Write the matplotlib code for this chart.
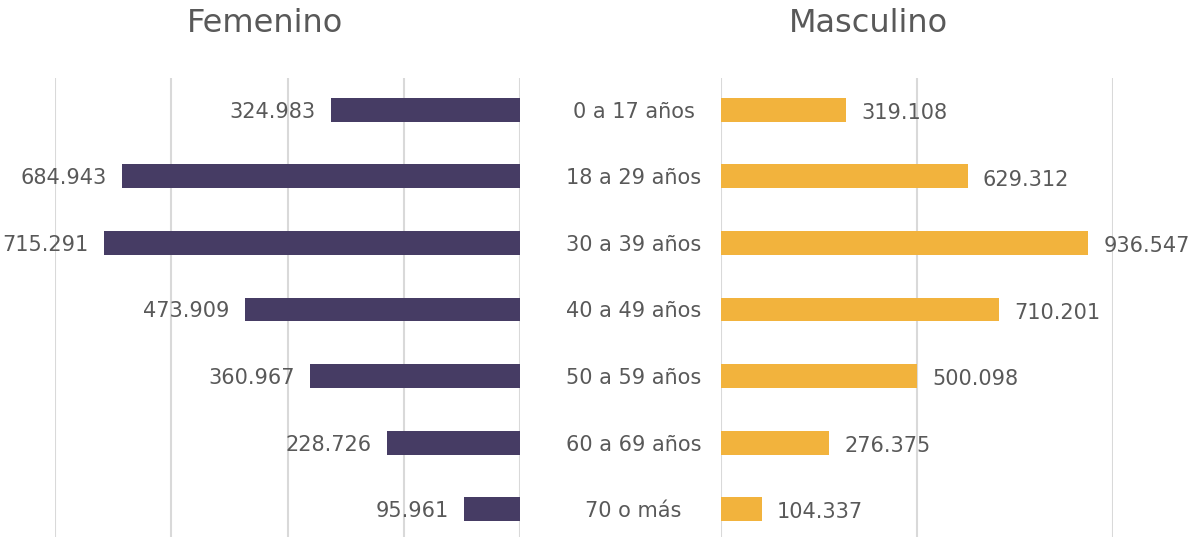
import numpy as np
import matplotlib.pyplot as plt

# data
age_groups = ['0 a 17 años', '18 a 29 años', '30 a 39 años', '40 a 49 años',
              '50 a 59 años', '60 a 69 años', '70 o más']
femenino = [324983, 684943, 715291, 473909, 360967, 228726, 95961]
masculino = [319108, 629312, 936547, 710201, 500098, 276375, 104337]

plt.rcParams['font.family'] = ['DejaVu Sans']
text_color = '#595959'
grid_color = '#d9d9d9'
fem_color = '#463c64'
mas_color = '#f2b33d'
label_size = 15


def fmt(v):
    return '{:,}'.format(v).replace(',', '.')


W, H = 1202, 537
fig = plt.figure(figsize=(W / 100, H / 100), dpi=100)

top, bottom = 78, 537
ax_l = fig.add_axes([55 / W, 1 - bottom / H, 465 / W, (bottom - top) / H])
ax_r = fig.add_axes([721 / W, 1 - bottom / H, 392 / W, (bottom - top) / H])

y = np.arange(len(age_groups))
bar_h = 0.36

ax_l.barh(y, femenino, height=bar_h, color=fem_color, zorder=3)
ax_l.set_xlim(800000, 0)
ax_l.set_xticks([0, 200000, 400000, 600000, 800000])

ax_r.barh(y, masculino, height=bar_h, color=mas_color, zorder=3)
ax_r.set_xlim(0, 1000000)
ax_r.set_xticks([0, 500000, 1000000])

for ax in (ax_l, ax_r):
    ax.set_ylim(6.42, -0.48)
    ax.set_yticks([])
    ax.grid(axis='x', color=grid_color, lw=1.5, zorder=0)
    ax.tick_params(axis='x', length=0, labelbottom=False)
    for s in ax.spines.values():
        s.set_visible(False)

for i, v in enumerate(femenino):
    ax_l.annotate(fmt(v), (v, i), xytext=(-11, 0), textcoords='offset points',
                  ha='right', va='center_baseline', fontsize=label_size,
                  color=text_color, annotation_clip=False)
for i, v in enumerate(masculino):
    ax_r.annotate(fmt(v), (v, i), xytext=(11, -1), textcoords='offset points',
                  ha='left', va='center_baseline', fontsize=label_size,
                  color=text_color, annotation_clip=False)

# category labels in the gap between both panels
for i, lab in enumerate(age_groups):
    ax_r.annotate(lab, (0, i), xytext=(-63, 0), textcoords='offset points',
                  ha='center', va='center_baseline', fontsize=label_size,
                  color=text_color, annotation_clip=False)

fig.text(265 / W, 1 - 24 / H, 'Femenino', ha='center', va='center',
         fontsize=23, color=text_color)
fig.text(868 / W, 1 - 24 / H, 'Masculino', ha='center', va='center',
         fontsize=23, color=text_color)

fig.savefig('out.png', dpi=100)
